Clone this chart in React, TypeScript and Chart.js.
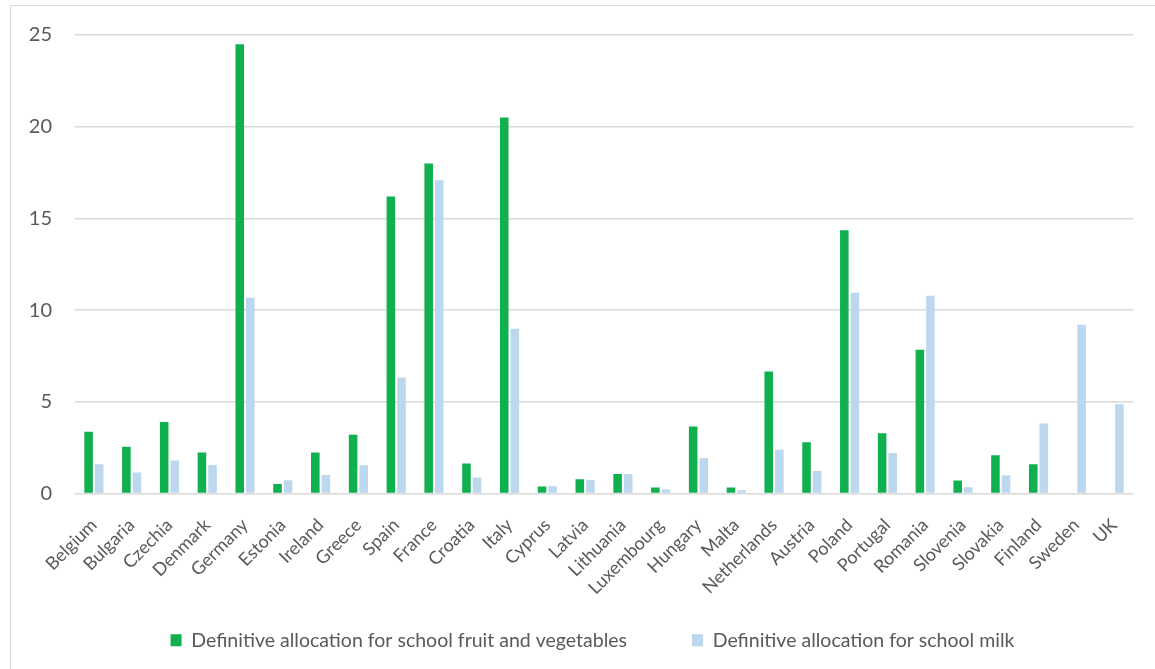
import React, { useEffect, useRef } from "react";
import { Chart, registerables } from "chart.js";

Chart.register(...registerables);

const countries = [
  "Belgium", "Bulgaria", "Czechia", "Denmark", "Germany", "Estonia", "Ireland", "Greece",
  "Spain", "France", "Croatia", "Italy", "Cyprus", "Latvia", "Lithuania", "Luxembourg",
  "Hungary", "Malta", "Netherlands", "Austria", "Poland", "Portugal", "Romania", "Slovenia",
  "Slovakia", "Finland", "Sweden", "UK",
];

const fruitVeg = [
  3.37, 2.55, 3.9, 2.24, 24.5, 0.52, 2.23, 3.21,
  16.2, 18.0, 1.63, 20.5, 0.38, 0.78, 1.07, 0.33,
  3.66, 0.33, 6.65, 2.79, 14.36, 3.28, 7.84, 0.71,
  2.08, 1.59, 0, 0,
];

const milk = [
  1.59, 1.14, 1.8, 1.55, 10.67, 0.72, 1.01, 1.54,
  6.32, 17.08, 0.87, 8.98, 0.4, 0.74, 1.07, 0.22,
  1.92, 0.18, 2.39, 1.23, 10.94, 2.21, 10.78, 0.34,
  0.99, 3.82, 9.2, 4.87,
];

const seriesNames = [
  "Definitive allocation for school fruit and vegetables",
  "Definitive allocation for school milk",
];

const yTicks = [0, 5, 10, 15, 20, 25];

const FONT = "Lato, 'Open Sans', sans-serif";
const TEXT = "#595959";
const GRID = "#d9d9d9";

export default function App() {
  const ref = useRef<HTMLCanvasElement | null>(null);

  useEffect(() => {
    if (!ref.current) return;
    const chart = new Chart(ref.current, {
      type: "bar",
      data: {
        labels: countries,
        datasets: [
          {
            label: seriesNames[0],
            data: fruitVeg,
            backgroundColor: "#11b04f",
            categoryPercentage: 0.56,
            barPercentage: 0.81,
          },
          {
            label: seriesNames[1],
            data: milk,
            backgroundColor: "#bdd7ee",
            categoryPercentage: 0.56,
            barPercentage: 0.81,
          },
        ],
      },
      options: {
        animation: false,
        responsive: false,
        maintainAspectRatio: false,
        layout: { padding: { left: 52, right: 22, top: 34, bottom: 9 } },
        plugins: {
          tooltip: { enabled: false },
          legend: {
            position: "bottom",
            labels: {
              font: { family: FONT, size: 19.5 },
              color: TEXT,
              boxWidth: 11,
              boxHeight: 12,
              padding: 65,
            },
          },
        },
        scales: {
          x: {
            grid: { display: false },
            border: { display: false },
            ticks: {
              font: { family: FONT, size: 18 },
              color: TEXT,
              minRotation: 45,
              maxRotation: 45,
              autoSkip: false,
              padding: 13,
            },
            afterFit: (s: any) => {
              s.height = 72;
              s._computeLabelArea = () => undefined;
            },
          },
          y: {
            min: 0,
            max: 25,
            afterBuildTicks: (s: any) => {
              s.ticks = yTicks.map((v) => ({ value: v }));
            },
            grid: { color: GRID, lineWidth: 1.5, drawTicks: false },
            border: { display: false },
            ticks: {
              font: { family: FONT, size: 20 },
              color: TEXT,
              padding: 23,
            },
            afterFit: (s: any) => {
              s.width = 23;
              s._computeLabelArea = () => undefined;
            },
          },
        },
      },
    });
    return () => chart.destroy();
  }, []);

  return (
    <div style={{ position: "fixed", left: 0, top: 0, width: 1155, height: 669, background: "#fff", overflow: "hidden" }}>
      <div
        style={{
          position: "absolute",
          left: 10,
          top: 5,
          width: 1200,
          height: 700,
          borderLeft: "1.5px solid " + GRID,
          borderTop: "1.5px solid " + GRID,
        }}
      />
      <canvas ref={ref} width={1155} height={669} style={{ position: "absolute", left: 0, top: 0 }} />
    </div>
  );
}
